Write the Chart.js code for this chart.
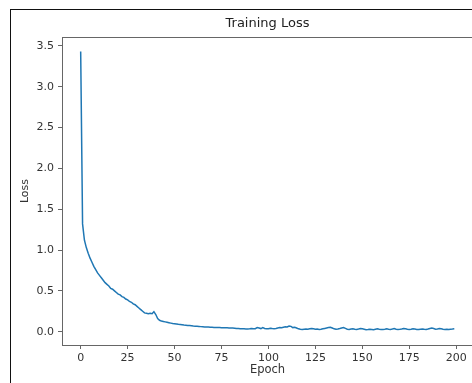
<!DOCTYPE html>
<html>
<head>
<meta charset="utf-8">
<script src="https://cdn.jsdelivr.net/npm/chart.js@4.4.1/dist/chart.umd.min.js"></script>
<style>
  html, body { margin: 0; padding: 0; background: #fff; overflow: hidden; width: 472px; height: 383px; }
  #wrap { position: absolute; left: 0; top: 0; width: 476px; height: 383px; }
  #frame { position: absolute; left: 10px; top: 9px; width: 600px; height: 600px;
           border-left: 1.5px solid #111; border-top: 1.5px solid #111; pointer-events: none; }
</style>
</head>
<body>
<div id="wrap"><canvas id="lossChart" width="476" height="383"></canvas></div>
<div id="frame"></div>
<script>
// loss per epoch
const lossValues = [
  3.43, 1.32, 1.12, 1.03, 0.96, 0.90, 0.85, 0.80, 0.76, 0.72,
  0.69, 0.66, 0.63, 0.60, 0.58, 0.56, 0.53, 0.52, 0.50, 0.48,
  0.46, 0.45, 0.43, 0.42, 0.40, 0.39, 0.37, 0.36, 0.34, 0.33,
  0.31, 0.29, 0.27, 0.25, 0.23, 0.225, 0.22, 0.225, 0.22, 0.245,
  0.21, 0.16, 0.14, 0.13, 0.125, 0.12, 0.115, 0.11, 0.105, 0.10,
  0.097, 0.094, 0.09, 0.088, 0.085, 0.082, 0.08, 0.077, 0.075, 0.073,
  0.07, 0.068, 0.066, 0.064, 0.062, 0.06, 0.058, 0.057, 0.056, 0.054,
  0.053, 0.052, 0.051, 0.05, 0.05, 0.049, 0.048, 0.048, 0.047, 0.046,
  0.045, 0.045, 0.043, 0.04, 0.038, 0.036, 0.035, 0.035, 0.034, 0.034,
  0.036, 0.04, 0.035, 0.037, 0.05, 0.045, 0.038, 0.05, 0.04, 0.036,
  0.035, 0.042, 0.038, 0.036, 0.04, 0.045, 0.05, 0.048, 0.055, 0.06,
  0.058, 0.07, 0.065, 0.05, 0.055, 0.045, 0.035, 0.03, 0.028, 0.03,
  0.032, 0.03, 0.035, 0.04, 0.035, 0.03, 0.032, 0.028, 0.03, 0.035,
  0.04, 0.045, 0.05, 0.055, 0.045, 0.035, 0.03, 0.032, 0.038, 0.045,
  0.05, 0.04, 0.03, 0.028, 0.032, 0.035, 0.03, 0.028, 0.033, 0.04,
  0.035, 0.03, 0.025, 0.027, 0.03, 0.028, 0.025, 0.03, 0.035, 0.03,
  0.028, 0.026, 0.03, 0.035, 0.03, 0.028, 0.032, 0.038, 0.03, 0.027,
  0.029, 0.033, 0.04, 0.035, 0.03, 0.028, 0.03, 0.035, 0.032, 0.028,
  0.026, 0.03, 0.034, 0.03, 0.028, 0.032, 0.04, 0.045, 0.038, 0.03,
  0.033, 0.04, 0.035, 0.03, 0.028, 0.03, 0.027, 0.03, 0.032, 0.035
];
const epochs = lossValues.map((v, i) => i);

const xTicks = [0, 25, 50, 75, 100, 125, 150, 175, 200];
const yTicks = [0.0, 0.5, 1.0, 1.5, 2.0, 2.5, 3.0, 3.5];

const spineColor = "#666";
const textColor = "#333";
const fontFamily = "'DejaVu Sans', sans-serif";

// matplotlib style box round the plot area
const boxPlugin = {
  id: "box",
  afterDraw(chart) {
    const { ctx, chartArea: a } = chart;
    ctx.save();
    ctx.strokeStyle = spineColor;
    ctx.lineWidth = 1;
    ctx.strokeRect(Math.round(a.left) + 0.5, Math.round(a.top) + 0.5,
                   Math.round(a.right - a.left), Math.round(a.bottom - a.top));
    ctx.restore();
  }
};

new Chart(document.getElementById("lossChart"), {
  type: "line",
  data: {
    datasets: [{
      label: "Loss",
      data: epochs.map((e, i) => ({ x: e, y: lossValues[i] })),
      borderColor: "#1f77b4",
      borderWidth: 1.5,
      pointRadius: 0,
      tension: 0,
      fill: false,
    }],
  },
  options: {
    responsive: false,
    animation: false,
    events: [],
    layout: { padding: { left: 0, right: 3, top: 0, bottom: 0 } },
    plugins: {
      legend: { display: false },
      tooltip: { enabled: false },
      title: {
        display: true,
        text: "Training Loss",
        fullSize: false,
        color: "#222",
        font: { family: fontFamily, size: 13, weight: "normal" },
        padding: { top: 16, bottom: 5.5 },
      },
    },
    scales: {
      x: {
        type: "linear",
        min: -9.95,
        max: 208.95,
        afterBuildTicks: (s) => { s.ticks = xTicks.map(v => ({ value: v })); },
        afterFit: (s) => { s.height = 38; },
        border: { display: false },
        grid: { drawOnChartArea: false, drawTicks: true, tickLength: 4, color: spineColor },
        ticks: { color: textColor, padding: 3, maxRotation: 0, font: { family: fontFamily, size: 11 } },
        title: {
          display: true, text: "Epoch", color: textColor,
          font: { family: fontFamily, size: 11.5 }, padding: { top: 0, bottom: 6 },
        },
      },
      y: {
        type: "linear",
        min: -0.163,
        max: 3.607,
        afterBuildTicks: (s) => { s.ticks = yTicks.map(v => ({ value: v })); },
        afterFit: (s) => { s.width = 62; },
        border: { display: false },
        grid: { drawOnChartArea: false, drawTicks: true, tickLength: 4, color: spineColor },
        ticks: {
          color: textColor, padding: 4, font: { family: fontFamily, size: 11 },
          callback: (v) => v.toFixed(1),
        },
        title: {
          display: true, text: "Loss", color: textColor,
          font: { family: fontFamily, size: 11 }, padding: { top: 19, bottom: 0 },
        },
      },
    },
  },
  plugins: [boxPlugin],
});
</script>
</body>
</html>
